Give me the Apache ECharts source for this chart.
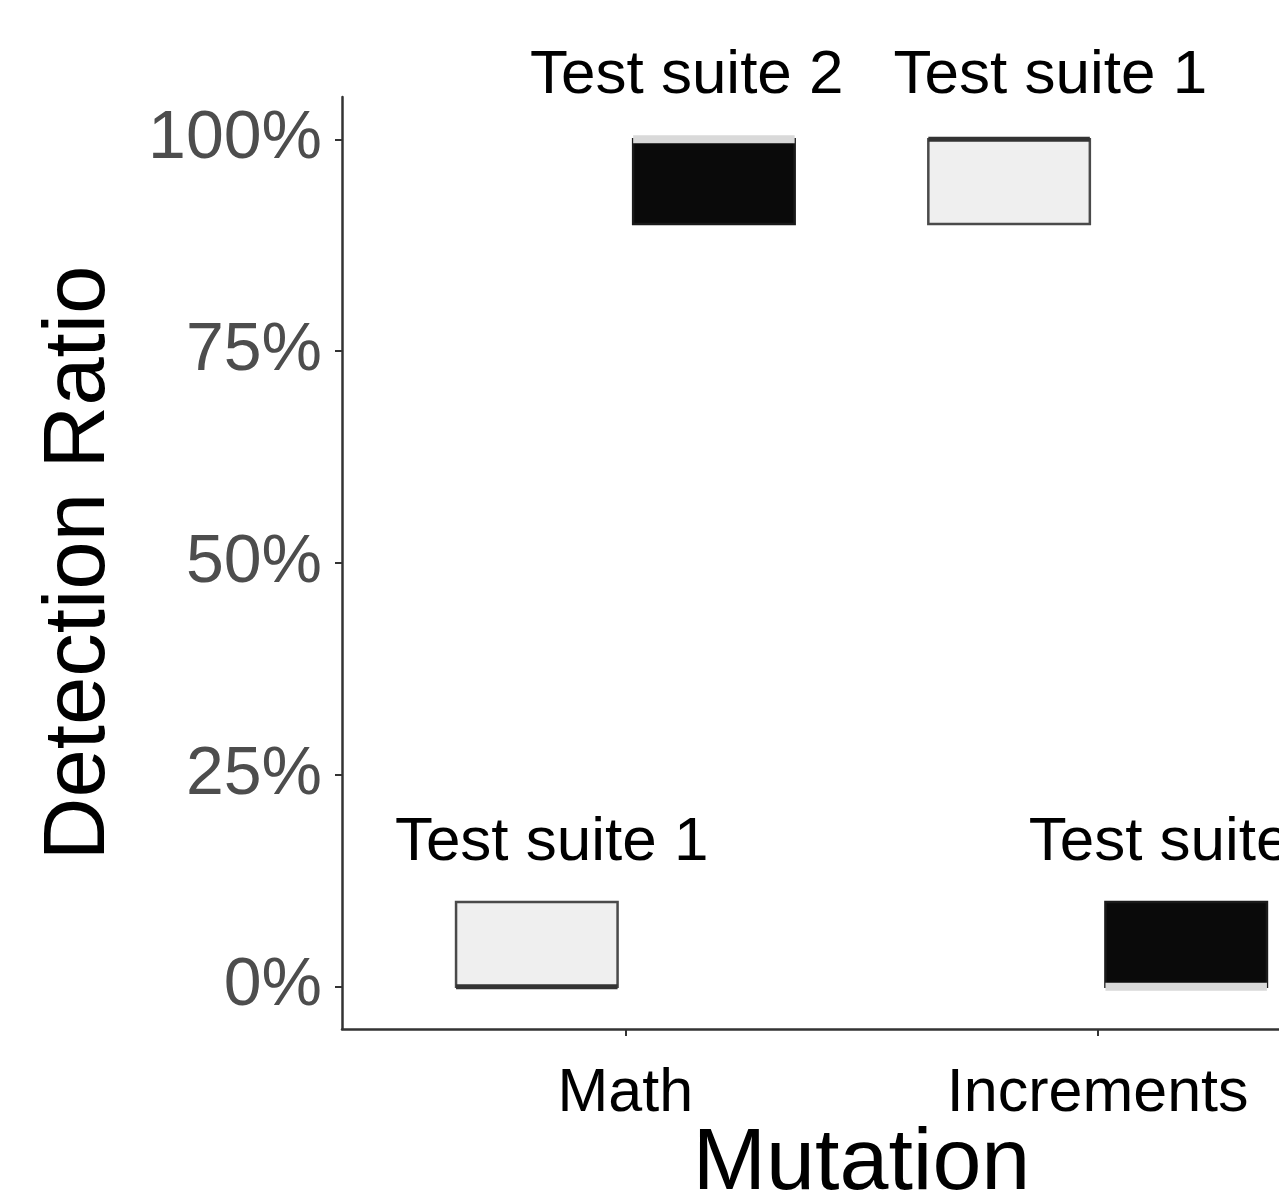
<!DOCTYPE html>
<html>
<head>
<meta charset="utf-8">
<script src="https://cdn.jsdelivr.net/npm/echarts@6/dist/echarts.min.js"></script>
<style>
  html, body { margin: 0; padding: 0; background: #fff; }
  #chart { width: 1279px; height: 1198px; }
</style>
</head>
<body>
<div id="chart"></div>
<script>
// categories and where they sit on the x scale
const categories = ['Math', 'Increments']
const categoryPos = [1, 2]
const suites = ['Test suite 1', 'Test suite 2']

// box stats (%): lower hinge, median, upper hinge
const suite1Q1 = [0, 90]
const suite1Median = [0, 100]
const suite1Q3 = [10, 100]
const suite2Q1 = [90, 0]
const suite2Median = [100, 0]
const suite2Q3 = [100, 10]

// text label anchors (data coords)
const suite1LabelX = [0.844, 1.9]
const suite1LabelY = [17, 107.5]
const suite2LabelX = [1.13, 2.186]
const suite2LabelY = [107.5, 17]

const yTicks = [0, 25, 50, 75, 100]

const DODGE = 0.1875
const BOX_HALF = 0.171
const FONT = '"Liberation Sans", Arial, sans-serif'

function boxRender(offset, fill, stroke, medColor, medWidth) {
  return function(params, api) {
    const x = api.value(0) + offset
    const lt = api.coord([x - BOX_HALF, api.value(3)])
    const rb = api.coord([x + BOX_HALF, api.value(1)])
    const ml = api.coord([x - BOX_HALF, api.value(2)])
    const mr = api.coord([x + BOX_HALF, api.value(2)])
    return {
      type: 'group',
      children: [
        {
          type: 'rect',
          shape: { x: lt[0], y: lt[1], width: rb[0] - lt[0], height: rb[1] - lt[1] },
          style: { fill: fill, stroke: stroke, lineWidth: 2.5 }
        },
        {
          type: 'line',
          shape: { x1: ml[0], y1: ml[1], x2: mr[0], y2: mr[1] },
          style: { stroke: medColor, lineWidth: medWidth }
        }
      ]
    }
  }
}

const suite1Data = categoryPos.map((c, i) => [c, suite1Q1[i], suite1Median[i], suite1Q3[i]])
const suite2Data = categoryPos.map((c, i) => [c, suite2Q1[i], suite2Median[i], suite2Q3[i]])
const labelData = []
suite1LabelX.forEach((x, i) => labelData.push([x, suite1LabelY[i], suites[0]]))
suite2LabelX.forEach((x, i) => labelData.push([x, suite2LabelY[i], suites[1]]))

const option = {
  animation: false,
  backgroundColor: '#ffffff',
  // panel runs past the right edge of the canvas (cropped figure)
  grid: { left: 342, top: 97, width: 1039, bottom: 169, outerBoundsMode: 'none' },
  xAxis: {
    type: 'value',
    min: 0.4,
    max: 2.6,
    name: 'Mutation',
    nameLocation: 'middle',
    nameGap: 92,
    nameMoveOverlap: false,
    nameTextStyle: { fontFamily: FONT, fontSize: 88, color: '#000', verticalAlign: 'top' },
    axisLine: { show: true, onZero: false, lineStyle: { color: '#333', width: 2.5 } },
    axisTick: { show: true, length: 7, customValues: categoryPos, lineStyle: { color: '#333', width: 2 } },
    axisLabel: {
      customValues: categoryPos,
      margin: 35,
      fontFamily: FONT,
      fontSize: 61,
      color: '#000',
      formatter: v => categories[categoryPos.indexOf(v)] || ''
    },
    splitLine: { show: false }
  },
  yAxis: {
    type: 'value',
    min: -5,
    max: 105,
    name: 'Detection Ratio',
    nameLocation: 'middle',
    nameGap: 218,
    nameTextStyle: { fontFamily: FONT, fontSize: 87, color: '#000' },
    axisLine: { show: true, onZero: false, lineStyle: { color: '#333', width: 2.5 } },
    axisTick: { show: true, length: 7, customValues: yTicks, lineStyle: { color: '#333', width: 2 } },
    axisLabel: {
      customValues: yTicks,
      margin: 20,
      fontFamily: FONT,
      fontSize: 68,
      color: '#4d4d4d',
      formatter: v => v + '%'
    },
    splitLine: { show: false }
  },
  series: [
    {
      type: 'custom',
      name: suites[0],
      renderItem: boxRender(-DODGE, '#efefef', '#4a4a4a', '#333333', 5),
      data: suite1Data
    },
    {
      type: 'custom',
      name: suites[1],
      renderItem: boxRender(DODGE, '#0a0a0a', '#1a1a1a', '#d9d9d9', 8),
      data: suite2Data
    },
    {
      type: 'custom',
      renderItem: function(params, api) {
        const p = api.coord([api.value(0), api.value(1)])
        return {
          type: 'text',
          x: p[0],
          y: p[1],
          style: {
            text: labelData[params.dataIndex][2],
            fontFamily: FONT,
            fontSize: 62,
            fill: '#000',
            align: 'center',
            verticalAlign: 'middle'
          }
        }
      },
      data: labelData
    }
  ]
}

const myChart = echarts.init(document.getElementById('chart'))
myChart.setOption(option)
window.addEventListener('resize', () => {
  myChart.resize()
})
</script>
</body>
</html>
